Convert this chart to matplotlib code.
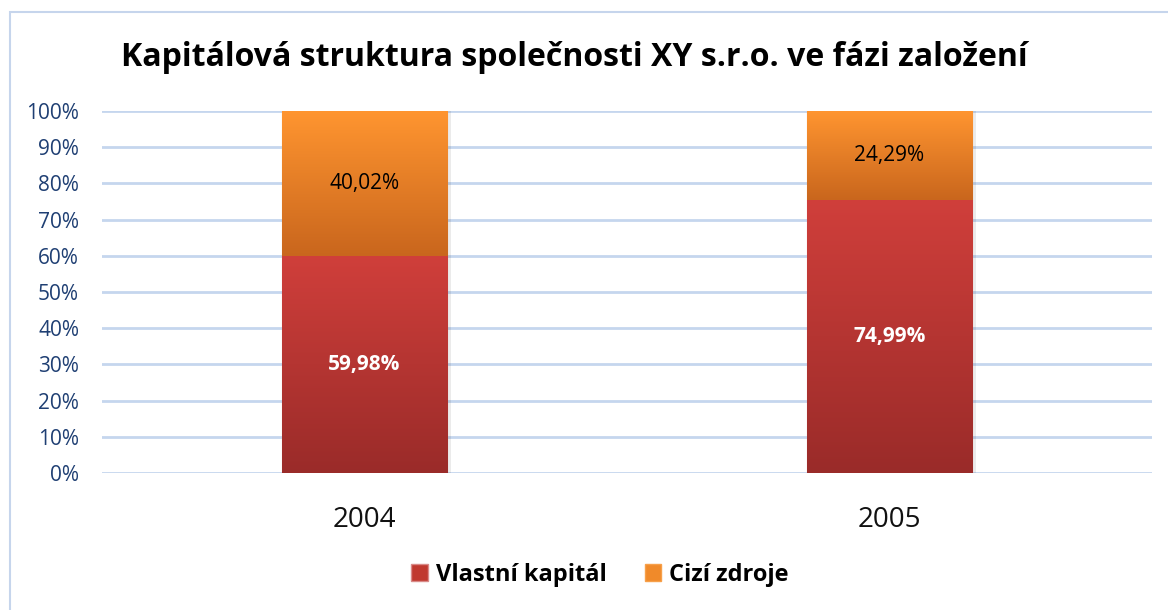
import matplotlib
matplotlib.use("Agg")
import matplotlib.pyplot as plt
import numpy as np
from matplotlib.patches import Rectangle, Patch
from matplotlib.colors import LinearSegmentedColormap

categories = ["2004", "2005"]
vlastni = [59.98, 74.99]
cizi = [40.02, 24.29]
series_names = ["Vlastní kapitál", "Cizí zdroje"]
title = "Kapitálová struktura společnosti XY s.r.o. ve fázi založení"

plt.rcParams['font.family'] = ['Open Sans', 'DejaVu Sans']

fig = plt.figure(figsize=(11.68, 6.10), dpi=100)
fig.patches.append(Rectangle((10/1168, -0.1), 1.2, 0.1 + (610-12)/610, transform=fig.transFigure,
                             fill=False, edgecolor='#C6D5EC', linewidth=1.5))
ax = fig.add_axes([102/1168, (610-473)/610, 1050/1168, 362/610])

tot = np.array(vlastni) + np.array(cizi)
v_frac = np.array(vlastni) / tot * 100
c_frac = np.array(cizi) / tot * 100
x = np.arange(len(categories))
w = 0.316

red_cm = LinearSegmentedColormap.from_list('r', ['#9A2B29', '#D03F3B'])
org_cm = LinearSegmentedColormap.from_list('o', ['#C9661D', '#FF9530'])

b1 = ax.bar(x, v_frac, w, color='#C0392F', edgecolor='#D98A88', linewidth=0.8, zorder=3)
b2 = ax.bar(x, c_frac, w, bottom=v_frac, color='#F08A2A', edgecolor='#F7A04A', linewidth=0.8, zorder=3)

grad = np.linspace(0, 1, 256).reshape(-1, 1)
for bars, cm in ((b1, red_cm), (b2, org_cm)):
    for p in bars:
        x0, y0 = p.get_x(), p.get_y()
        ww, hh = p.get_width(), p.get_height()
        im = ax.imshow(grad, cmap=cm, origin='lower', aspect='auto',
                       extent=(x0, x0 + ww, y0, y0 + hh), zorder=3.5)
        im.set_clip_path(p)
        ax.add_patch(Rectangle((x0 + ww, y0), 0.006, hh, facecolor='#000000', alpha=0.08,
                               edgecolor='none', zorder=2.5))

for i in range(len(categories)):
    ax.text(x[i], v_frac[i] / 2, f"{vlastni[i]:.2f}%".replace('.', ','), ha='center', va='center',
            color='white', fontsize=15, fontweight='bold', zorder=5)
    ax.text(x[i], v_frac[i] + c_frac[i] / 2, f"{cizi[i]:.2f}%".replace('.', ','), ha='center', va='center',
            color='black', fontsize=15, zorder=5)

ax.set_xlim(-0.5, 1.5)
ax.set_ylim(0, 100)
ax.set_yticks(np.arange(0, 101, 10))
ax.set_yticklabels([f"{t}%" for t in range(0, 101, 10)], color='#1F3F73', fontsize=15)
ax.set_xticks(x)
ax.set_xticklabels(categories, fontsize=20, color='#111111')
ax.tick_params(axis='both', length=0)
ax.tick_params(axis='y', pad=16.5)
ax.tick_params(axis='x', pad=24)
ax.grid(axis='y', color='#C5D6EE', linewidth=2, zorder=0)
ax.set_axisbelow(True)
for s in ax.spines.values():
    s.set_visible(False)

fig.text(574/1168, 1 - 57/610, title, ha='center', va='center', fontsize=23, fontweight='bold')

handles = [Patch(facecolor='#C0392F', edgecolor='#D98A88'), Patch(facecolor='#F08A2A', edgecolor='#F7A04A')]
leg = fig.legend(handles, series_names, loc='center', bbox_to_anchor=(600/1168, 1 - 575/610), ncol=2,
                 frameon=False, prop={'weight': 'bold', 'size': 17},
                 handlelength=0.7, handleheight=0.7, handletextpad=0.35, columnspacing=1.6)

fig.savefig("out.png", dpi=100)
